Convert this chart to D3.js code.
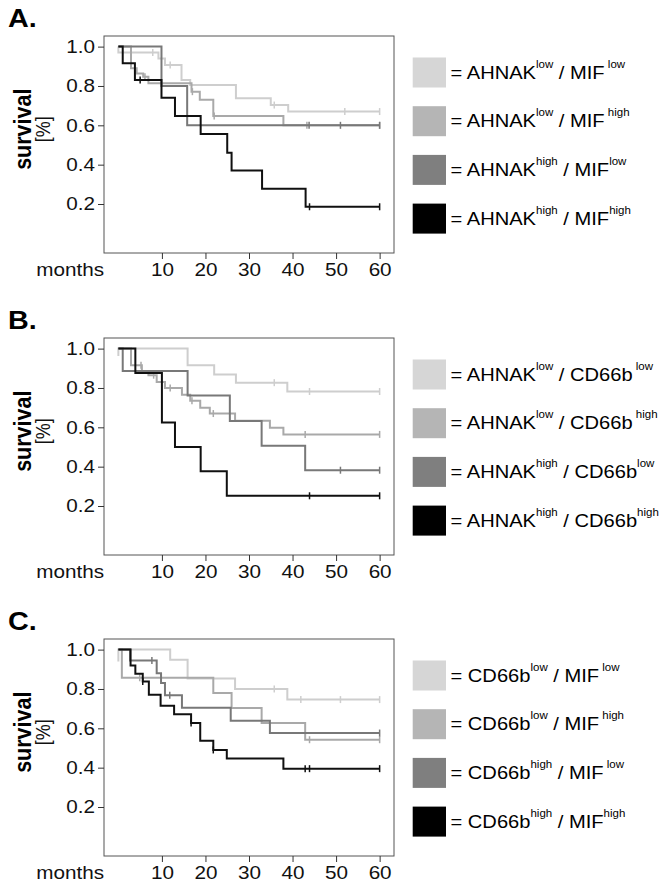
<!DOCTYPE html>
<html><head><meta charset="utf-8">
<script src="https://cdn.jsdelivr.net/npm/d3@7"></script>
<style>body{margin:0;background:#fff} text{font-family:Arial,"Liberation Sans",sans-serif}</style>
</head><body><svg id="c" width="664" height="886"></svg>
<script>
// ---- data ----
const months = [10, 20, 30, 40, 50, 60];
const survivalTicks = [1.0, 0.8, 0.6, 0.4, 0.2];
const panelLabels = ["A.", "B.", "C."];
// series order in each panel: [low/low, low/high, high/low, high/high]
const panelA_times = [
  [0, 0, 9.2, 10.7, 14.5, 16.5, 27, 35, 39],
  [0, 2.9, 4.2, 5.7, 6.9, 16.8, 18.7, 21.8, 37.9],
  [0, 9.9, 15.8],
  [0, 1, 3.8, 9.9, 13, 18.9, 25, 26, 33, 43]
];
const panelA_surv = [
  [1, 0.97, 0.94, 0.907, 0.83, 0.805, 0.737, 0.703, 0.67],
  [1, 0.89, 0.864, 0.847, 0.814, 0.771, 0.73, 0.647, 0.6],
  [1, 0.8, 0.6],
  [1, 0.915, 0.83, 0.74, 0.647, 0.556, 0.46, 0.37, 0.278, 0.186]
];
const panelA_cens = [
  [7.9, 11.9, 35.8, 52, 60],
  [6.1, 17, 22, 43.3, 60],
  [43.8, 51, 60],
  [5, 43.9, 60]
];
const panelB_times = [
  [0, 0, 15.9, 22, 27, 38.8],
  [0, 2.9, 5.4, 6.9, 8.8, 10.7, 14.6, 16.5, 18.8, 21, 26.8, 34.8, 37.9],
  [0, 1, 15.9, 25.6, 32.9, 42.9],
  [0, 3.9, 10, 13, 18.9, 24.9]
];
const panelB_surv = [
  [0.963, 1, 0.915, 0.869, 0.827, 0.782],
  [1, 0.915, 0.886, 0.865, 0.83, 0.8, 0.765, 0.735, 0.7, 0.67, 0.634, 0.598, 0.564],
  [1, 0.886, 0.762, 0.632, 0.506, 0.382],
  [1, 0.876, 0.625, 0.5, 0.377, 0.252]
];
const panelB_cens = [
  [35.8, 43.9, 60],
  [5.2, 8.1, 11.9, 16.9, 21.8, 42.9, 60],
  [51, 60],
  [43.9, 60]
];
const panelC_times = [
  [0, 0, 11.9, 15.9, 26.8, 38.8],
  [0, 0.8, 21.8, 26, 32.9, 42.9],
  [0, 2.7, 8.8, 9.8, 10.7, 14.6, 25.8, 34.8],
  [0, 2.8, 3.9, 5.6, 7, 9.7, 12.8, 16.7, 18.8, 21.8, 24.9, 37.9]
];
const panelC_surv = [
  [0.94, 1, 0.949, 0.853, 0.8, 0.746],
  [1, 0.857, 0.78, 0.703, 0.627, 0.542],
  [1, 0.945, 0.88, 0.83, 0.768, 0.705, 0.638, 0.576],
  [1, 0.919, 0.878, 0.838, 0.77, 0.715, 0.672, 0.627, 0.537, 0.49, 0.446, 0.395]
];
const panelC_cens = [
  [35.8, 41.9, 51, 60],
  [4.9, 43.9, 60],
  [7.7, 11.8, 60],
  [5.6, 16.7, 21.8, 42.9, 43.9, 60]
];
const legendA = [["AHNAK", "low", "MIF", " low"], ["AHNAK", "low", "MIF", " high"], ["AHNAK", "high", "MIF", "low"], ["AHNAK", "high", "MIF", "high"]];
const legendB = [["AHNAK", "low", "CD66b", " low"], ["AHNAK", "low", "CD66b", " high"], ["AHNAK", "high", "CD66b", "low"], ["AHNAK", "high", "CD66b", "high"]];
const legendC = [["CD66b", "low", "MIF", " low"], ["CD66b", "low", "MIF", " high"], ["CD66b", "high", "MIF", " low"], ["CD66b", "high", "MIF", "high"]];

// ---- styles / layout ----
const lineColors = ["#cecece", "#a9a9a9", "#787878", "#101010"];
const boxColors = ["#d6d6d6", "#b5b5b5", "#7f7f7f", "#000000"];
const SX = 1.15;
const panelTops = [36, 338, 639];
const boxL = 104, boxR = 394, boxH = 217;
const FONT = 'Arial, "Liberation Sans", sans-serif';

const svg = d3.select("#c");
const x = d3.scaleLinear().domain([-3.3, 63.3]).range([boxL, boxR]);

const panels = [
  {times: panelA_times, surv: panelA_surv, cens: panelA_cens, legend: legendA},
  {times: panelB_times, surv: panelB_surv, cens: panelB_cens, legend: legendB},
  {times: panelC_times, surv: panelC_surv, cens: panelC_cens, legend: legendC}
];

function stepValue(ts, ss, t) {
  let v = ss[0];
  for (let i = 0; i < ts.length; i++) if (ts[i] <= t) v = ss[i];
  return v;
}

panels.forEach((P, p) => {
  const top = panelTops[p];
  const y = d3.scaleLinear().domain([-0.049, 1.054]).range([top + boxH, top]);
  const g = svg.append("g");

  // panel label
  g.append("text").attr("transform", `translate(8,${top - 9}) scale(${SX},1)`)
    .attr("font-size", 25).attr("font-weight", "bold").attr("fill", "#000").text(panelLabels[p]);

  // box
  g.append("rect").attr("x", boxL).attr("y", top).attr("width", boxR - boxL).attr("height", boxH)
    .attr("fill", "none").attr("stroke", "#555").attr("stroke-width", 1);

  // y axis
  const ya = g.append("g").attr("transform", `translate(${boxL},0)`)
    .call(d3.axisLeft(y).tickValues(survivalTicks).tickFormat(d3.format(".1f")).tickSize(6).tickPadding(3));
  ya.attr("font-family", FONT);
  ya.select(".domain").remove();
  ya.selectAll(".tick line").attr("stroke", "#333");
  ya.selectAll(".tick text").attr("font-size", 18).attr("fill", "#111")
    .attr("x", 0).attr("transform", `translate(-9,0) scale(${SX},1)`);

  // x axis
  const xa = g.append("g").attr("transform", `translate(0,${top + boxH})`)
    .call(d3.axisBottom(x).tickValues(months).tickSize(6).tickPadding(4));
  xa.attr("font-family", FONT);
  xa.select(".domain").remove();
  xa.selectAll(".tick line").attr("stroke", "#333");
  xa.selectAll(".tick text").attr("font-size", 18).attr("fill", "#111")
    .attr("y", 0).attr("transform", `translate(0,10) scale(${SX},1)`);

  g.append("text").attr("transform", `translate(${boxL},${top + boxH + 23}) scale(${SX},1)`)
    .attr("text-anchor", "end").attr("font-size", 18).attr("fill", "#111").text("months");

  // y title
  const cy = y(0.58);
  g.append("text").attr("transform", `translate(31,${cy}) scale(${SX},1) rotate(-90)`)
    .attr("text-anchor", "middle").attr("font-size", 21.5).attr("font-weight", "bold").attr("fill", "#000").text("survival");
  g.append("text").attr("transform", `translate(50,${cy}) scale(${SX},1) rotate(-90)`)
    .attr("text-anchor", "middle").attr("font-size", 18).attr("fill", "#111").text("[%]");

  // curves
  const line = d3.line().x(d => x(d[0])).y(d => y(d[1])).curve(d3.curveStepAfter);
  P.times.forEach((ts, k) => {
    const ss = P.surv[k];
    const pts = ts.map((t, i) => [t, ss[i]]);
    pts.push([60, ss[ss.length - 1]]);
    g.append("path").attr("d", line(pts)).attr("fill", "none")
      .attr("stroke", lineColors[k]).attr("stroke-width", 2);
    g.selectAll(null).data(P.cens[k]).enter().append("line")
      .attr("x1", d => x(d)).attr("x2", d => x(d))
      .attr("y1", d => y(stepValue(ts, ss, d)) - 3.5)
      .attr("y2", d => y(stepValue(ts, ss, d)) + 3.5)
      .attr("stroke", lineColors[k]).attr("stroke-width", 1.5);
  });

  // legend
  P.legend.forEach((row, i) => {
    const ry = top + 21.5 + i * 48.7;
    g.append("rect").attr("x", 412.7).attr("y", ry).attr("width", 33.3).attr("height", 30)
      .attr("fill", boxColors[i]);
    const t = g.append("text").attr("transform", `translate(450.5,${ry + 21}) scale(${SX},1)`)
      .attr("font-size", 17.5).attr("fill", "#000").style("white-space", "pre");
    t.append("tspan").text("= " + row[0]);
    t.append("tspan").attr("dy", -11).attr("font-size", 10).text(row[1]);
    t.append("tspan").attr("dy", 11).attr("font-size", 17.5).text(" / " + row[2]);
    t.append("tspan").attr("dy", -11).attr("font-size", 10).text(row[3]);
  });
});
</script></body></html>
